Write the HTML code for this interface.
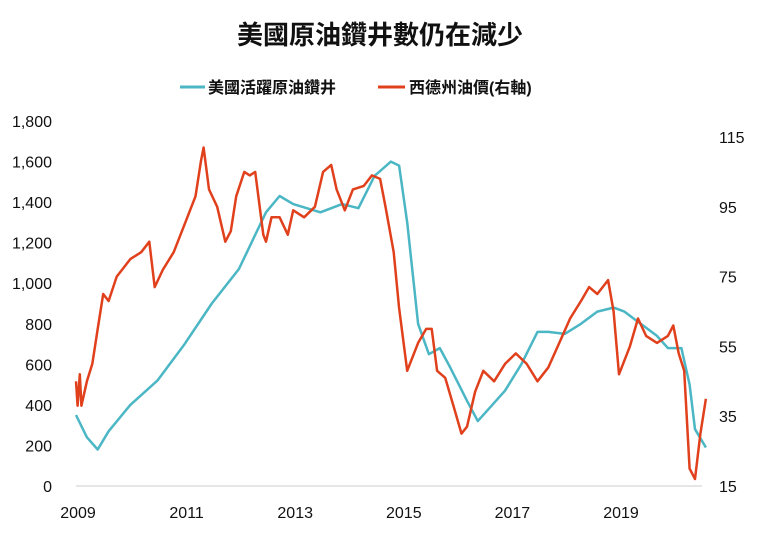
<!DOCTYPE html>
<html><head><meta charset="utf-8"><style>
body{margin:0;background:#fff;width:760px;height:538px;overflow:hidden;font-family:"Liberation Sans","Noto Sans CJK TC",sans-serif}
svg text{font-family:"Liberation Sans","Noto Sans CJK TC",sans-serif;fill:#111}
</style></head><body>
<svg width="760" height="538">
<text x="380" y="44" text-anchor="middle" font-size="26" font-weight="bold">美國原油鑽井數仍在減少</text>
<g>
<line x1="180" y1="87" x2="205" y2="87" stroke="#4bb6c4" stroke-width="3"/>
<text x="208" y="93" font-size="16" font-weight="bold">美國活躍原油鑽井</text>
<line x1="378" y1="87" x2="405" y2="87" stroke="#e0401c" stroke-width="3"/>
<text x="409" y="93" font-size="16" font-weight="bold">西德州油價(右軸)</text>
</g>
<line x1="76" y1="486" x2="702" y2="486" stroke="#ddd" stroke-width="1.5"/>
<g id="lt"></g>
<g id="rt"></g>
<g id="xt"></g>
<g id="series"></g>
</svg>
<script>
const leftTicks=[0,200,400,600,800,1000,1200,1400,1600,1800];
const rightTicks=[15,35,55,75,95,115];
const yearTicks=[2009,2011,2013,2015,2017,2019];
const rigDates=[2009.0,2009.2,2009.4,2009.6,2010.0,2010.5,2011.0,2011.5,2012.0,2012.5,2012.75,2013.0,2013.5,2013.9,2014.2,2014.5,2014.8,2014.95,2015.1,2015.3,2015.5,2015.7,2015.9,2016.2,2016.4,2016.6,2016.9,2017.2,2017.5,2017.7,2018.0,2018.3,2018.6,2018.9,2019.1,2019.4,2019.7,2019.9,2020.15,2020.3,2020.4,2020.6];
const rigValues=[350,240,180,270,400,520,700,900,1070,1350,1430,1390,1350,1390,1370,1530,1600,1580,1300,800,650,680,580,420,320,380,470,600,760,760,750,800,860,880,860,800,740,680,680,500,280,190];
const wtiDates=[2009.0,2009.03,2009.07,2009.1,2009.2,2009.3,2009.4,2009.5,2009.6,2009.75,2009.9,2010.0,2010.2,2010.35,2010.45,2010.6,2010.8,2011.0,2011.2,2011.3,2011.35,2011.45,2011.6,2011.75,2011.85,2011.95,2012.1,2012.2,2012.3,2012.45,2012.5,2012.6,2012.75,2012.9,2013.0,2013.2,2013.4,2013.55,2013.7,2013.8,2013.95,2014.1,2014.3,2014.45,2014.6,2014.7,2014.85,2014.95,2015.1,2015.3,2015.45,2015.55,2015.65,2015.8,2015.95,2016.1,2016.2,2016.35,2016.5,2016.7,2016.9,2017.1,2017.3,2017.5,2017.7,2017.9,2018.1,2018.3,2018.45,2018.6,2018.8,2018.9,2019.0,2019.2,2019.35,2019.5,2019.7,2019.9,2020.0,2020.1,2020.2,2020.3,2020.4,2020.5,2020.6];
const wtiValues=[45,38,47,38,45,50,60,70,68,75,78,80,82,85,72,77,82,90,98,108,112,100,95,85,88,98,105,104,105,87,85,92,92,87,94,92,95,105,107,100,94,100,101,104,103,95,82,66,48,56,60,60,48,46,38,30,32,42,48,45,50,53,50,45,49,56,63,68,72,70,74,65,47,55,63,58,56,58,61,53,48,20,17,30,40];
const NS="http://www.w3.org/2000/svg";
const X=t=>76+(t-2009)*54.3;
const YL=v=>486-v/1800*365;
const YR=v=>486-(v-15)/100*349;
function mk(tag,attrs,parent,txt){const e=document.createElementNS(NS,tag);for(const k in attrs)e.setAttribute(k,attrs[k]);if(txt!==undefined)e.textContent=txt;parent.appendChild(e);return e;}
const lt=document.getElementById('lt'),rt=document.getElementById('rt'),xt=document.getElementById('xt'),sg=document.getElementById('series');
leftTicks.forEach(v=>{const e=mk('text',{x:52,y:YL(v)+6,'text-anchor':'end','font-size':16},lt,v.toLocaleString('en-US'));

});
rightTicks.forEach(v=>{const e=mk('text',{x:719,y:YR(v)+6,'font-size':16},rt,String(v));

});
yearTicks.forEach(v=>{const e=mk('text',{x:X(v)+2,y:518,'text-anchor':'middle','font-size':16},xt,String(v));

});
const rigPts=rigDates.map((d,i)=>X(d).toFixed(1)+','+YL(rigValues[i]).toFixed(1)).join(' ');
const rl=mk('polyline',{points:rigPts,fill:'none',stroke:'#4bb6c4','stroke-width':2.5,'stroke-linejoin':'round'},sg);


const wtiPts=wtiDates.map((d,i)=>X(d).toFixed(1)+','+YR(wtiValues[i]).toFixed(1)).join(' ');
const wl=mk('polyline',{points:wtiPts,fill:'none',stroke:'#e0401c','stroke-width':2.5,'stroke-linejoin':'round'},sg);


</script>
</body></html>
